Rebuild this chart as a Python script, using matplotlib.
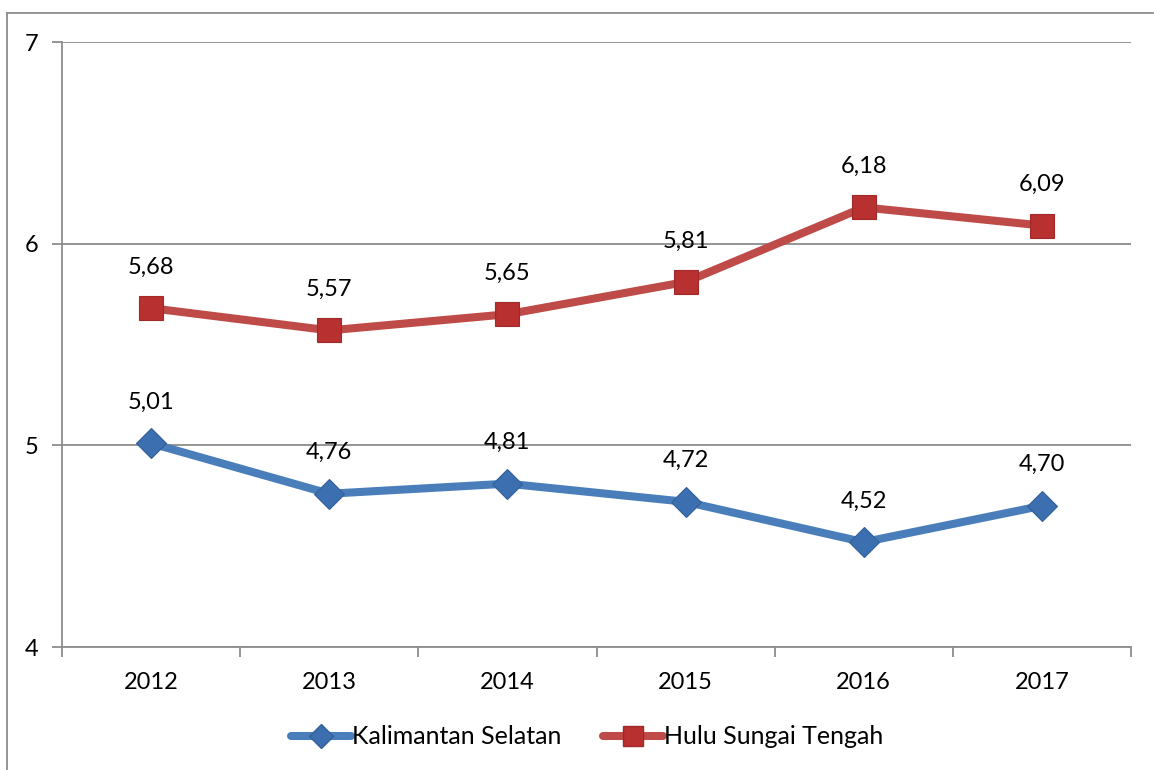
import numpy as np
import matplotlib.pyplot as plt
from matplotlib.lines import Line2D

# DATA
years = ["2012", "2013", "2014", "2015", "2016", "2017"]
kalsel = [5.01, 4.76, 4.81, 4.72, 4.52, 4.70]
hst = [5.68, 5.57, 5.65, 5.81, 6.18, 6.09]
series_names = ["Kalimantan Selatan", "Hulu Sungai Tengah"]

# STYLE
plt.rcParams['font.family'] = ['Lato', 'DejaVu Sans']
blue_line, blue_mk = '#4A7EBB', '#3C6FB0'
red_line, red_mk = '#BE4B48', '#B8302F'
grid_c = '#8C8C8C'

fig = plt.figure(figsize=(11.54, 7.70), dpi=100)
ax = fig.add_axes([62 / 1154, 1 - 647 / 770, (1131 - 62) / 1154, (647 - 42) / 770])

# figure border (left and top visible)
fig.add_artist(Line2D([7 / 1154, 7 / 1154], [0, 1 - 13 / 770], color=grid_c, lw=1.3,
                      transform=fig.transFigure))
fig.add_artist(Line2D([7 / 1154, 1], [1 - 13 / 770, 1 - 13 / 770], color=grid_c, lw=1.3,
                      transform=fig.transFigure))

x = np.arange(len(years))
ax.plot(x, kalsel, color=blue_line, lw=5.8, marker='D', ms=15,
        mfc=blue_mk, mec='#33609A', mew=0.8, solid_capstyle='round', zorder=3)
ax.plot(x, hst, color=red_line, lw=5.8, marker='s', ms=17,
        mfc=red_mk, mec='#A02A29', mew=0.8, solid_capstyle='round', zorder=3)

for xi, v in zip(x, kalsel):
    ax.annotate(f"{v:.2f}".replace('.', ','), (xi, v), xytext=(0, 22),
                textcoords='offset points', ha='center', va='bottom', fontsize=17)
for xi, v in zip(x, hst):
    ax.annotate(f"{v:.2f}".replace('.', ','), (xi, v), xytext=(0, 22),
                textcoords='offset points', ha='center', va='bottom', fontsize=17)

ax.set_xlim(-0.5, len(years) - 0.5)
ax.set_ylim(4, 7)
ax.set_yticks([4, 5, 6, 7])
ax.set_yticklabels(['4', '5', '6', '7'], fontsize=17)
ax.yaxis.grid(True, color=grid_c, lw=1.3)
ax.set_axisbelow(True)

ax.set_xticks(x)
ax.set_xticklabels(years, fontsize=17)
ax.tick_params(axis='x', length=0, pad=18)
ax.set_xticks(np.arange(-0.5, len(years)), minor=True)
ax.tick_params(axis='x', which='minor', length=7, width=1.3, color=grid_c)
ax.tick_params(axis='y', length=7, width=1.3, color=grid_c, pad=10)

for s in ['top', 'right']:
    ax.spines[s].set_visible(False)
for s in ['left', 'bottom']:
    ax.spines[s].set_color(grid_c)
    ax.spines[s].set_linewidth(1.3)

handles = [
    Line2D([], [], color=blue_line, lw=5.8, marker='D', ms=12, mfc=blue_mk, mec='#33609A',
           solid_capstyle='round'),
    Line2D([], [], color=red_line, lw=5.8, marker='s', ms=14, mfc=red_mk, mec='#A02A29',
           solid_capstyle='round'),
]
fig.legend(handles, series_names, loc='center', bbox_to_anchor=(0.509, 1 - 737 / 770),
           ncol=2, frameon=False, fontsize=18, handlelength=2.4, handletextpad=0.05,
           columnspacing=1.65)

fig.savefig('out.png', dpi=100, facecolor='white')
